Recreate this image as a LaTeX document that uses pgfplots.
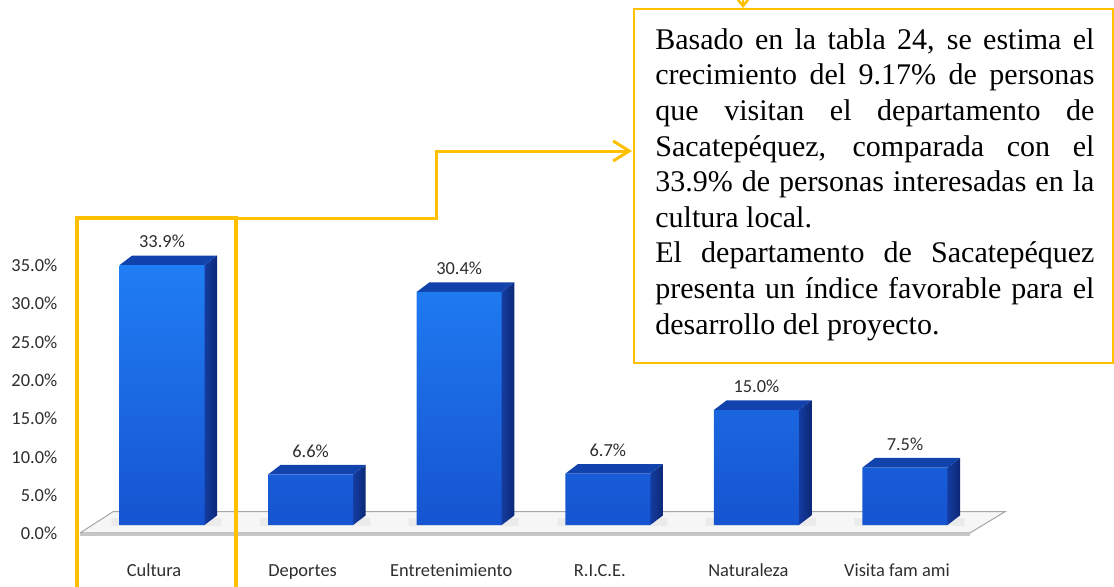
\documentclass[border=0pt]{standalone}
\usepackage{fontspec}
\setmainfont{Liberation Serif}
\newfontfamily\carlito{Carlito}
\usepackage{pgfplots}
\usepackage{pgfplotstable}
\pgfplotsset{compat=1.18}
\usetikzlibrary{arrows.meta}

\definecolor{gold}{RGB}{255,192,0}
\definecolor{barTop}{RGB}{32,126,244}
\definecolor{barBot}{RGB}{22,84,208}
\definecolor{sideA}{RGB}{20,60,160}
\definecolor{sideB}{RGB}{12,40,118}
\definecolor{topFace}{RGB}{18,66,172}
\definecolor{labelGray}{RGB}{45,45,45}
\definecolor{floorFill}{RGB}{246,246,246}

% share of visitors by interest (percent)
\pgfplotstableread{
x v
0 33.9
1 6.6
2 30.4
3 6.7
4 15.0
5 7.5
}\visitas

\newcommand\jline[1]{\makebox[219.5pt][s]{#1}}

\begin{document}
\begin{tikzpicture}[x=0.5pt,y=0.5pt]
\path[use as bounding box] (0,0) rectangle (1114,586);

\begin{axis}[
  at={(40.15pt,24.75pt)}, anchor=south west,
  scale only axis, width=453.2pt, height=143.75pt,
  xmin=-0.55, xmax=5.55, ymin=-1.5, ymax=36,
  clip=false,
  axis line style={draw=none},
  major tick length=0pt,
  tick style={draw=none},
  xtick={0,...,5},
  xticklabels={Cultura,Deportes,Entretenimiento,R.I.C.E.,Naturaleza,Visita fam ami},
  ytick={0,5,...,35},
  yticklabels={0.0\%,5.0\%,10.0\%,15.0\%,20.0\%,25.0\%,30.0\%,35.0\%},
  ticklabel style={font=\carlito\fontsize{9.2}{10}\selectfont, text=labelGray},
  yticklabel style={xshift=-8pt, yshift=-4.25pt},
  xticklabel style={xshift=-4pt, yshift=-9pt, text height=1.6ex, text depth=0.5ex},
  /pgf/number format/assume math mode=true,
]
% floor of the 3D plot
\addplot[fill=floorFill, draw=gray!70, line width=0.5pt]
  coordinates {(-0.552,-1.04)(5.437,-1.04)(5.673,1.73)(-0.33,1.73)(-0.552,-1.04)};
\addplot[draw=gray!45, line width=1.4pt]
  coordinates {(-0.552,-1.2)(5.437,-1.2)};

% side and top faces of each bar, with a soft shadow on the floor
\pgfplotsforeachungrouped \r in {0,...,5}{
  \pgfplotstablegetelem{\r}{v}\of\visitas
  \let\val\pgfplotsretval
  \pgfmathsetmacro\xa{\r-0.286}
  \pgfmathsetmacro\xb{\r+0.286}
  \pgfmathsetmacro\xc{\r+0.286+0.085}
  \pgfmathsetmacro\xd{\r-0.286+0.085}
  \pgfmathsetmacro\xsa{\r-0.34}
  \pgfmathsetmacro\xsb{\r+0.40}
  \pgfmathsetmacro\vt{\val+1.25}
  \edef\faces{%
    \noexpand\addplot[draw=none, fill=gray!25, opacity=0.45]
      coordinates {(\xsa,-0.1)(\xsb,-0.1)(\xsb,0.9)(\xsa,0.9)(\xsa,-0.1)};
    \noexpand\addplot[draw=none, left color=sideA, right color=sideB]
      coordinates {(\xb,0)(\xc,1.25)(\xc,\vt)(\xb,\val)(\xb,0)};
    \noexpand\addplot[draw=none, fill=topFace]
      coordinates {(\xa,\val)(\xb,\val)(\xc,\vt)(\xd,\vt)(\xa,\val)};
  }
  \faces
}

% front faces with value labels
\addplot[ybar, bar width=0.572, draw=none, top color=barTop, bottom color=barBot,
  nodes near coords={\pgfmathprintnumber[fixed,fixed zerofill,precision=1]{\pgfplotspointmeta}\%},
  nodes near coords style={font=\carlito\fontsize{9.2}{10}\selectfont, text=labelGray, yshift=5pt}]
  table[x=x,y=v]{\visitas};
\end{axis}

% highlight around the first category and its connector
\draw[gold, line width=2pt] (77,-20) -- (77,368) -- (236,368) -- (236,-20);
\draw[gold, line width=1.5pt, -{Straight Barb[length=8pt,width=10pt]}]
  (236,368) -- (436,368) -- (436,435) -- (632,435);
\draw[gold, line width=1.25pt, -{Straight Barb[length=5pt,width=8pt]}]
  (743,600) -- (743,578);

% commentary box
\draw[gold, line width=1.25pt, fill=white] (634,223) rectangle (1113,577);
\node[anchor=north west, inner sep=0pt, align=left,
      font=\fontsize{15}{17.8}\selectfont] at (655,558) {%
  \jline{Basado en la tabla 24, se estima el}\\
  \jline{crecimiento del 9.17\% de personas}\\
  \jline{que visitan el departamento de}\\
  \jline{Sacatepéquez, comparada con el}\\
  \jline{33.9\% de personas interesadas en la}\\
  cultura local.\\
  \jline{El departamento de Sacatepéquez}\\
  \jline{presenta un índice favorable para el}\\
  desarrollo del proyecto.};
\end{tikzpicture}
\end{document}
